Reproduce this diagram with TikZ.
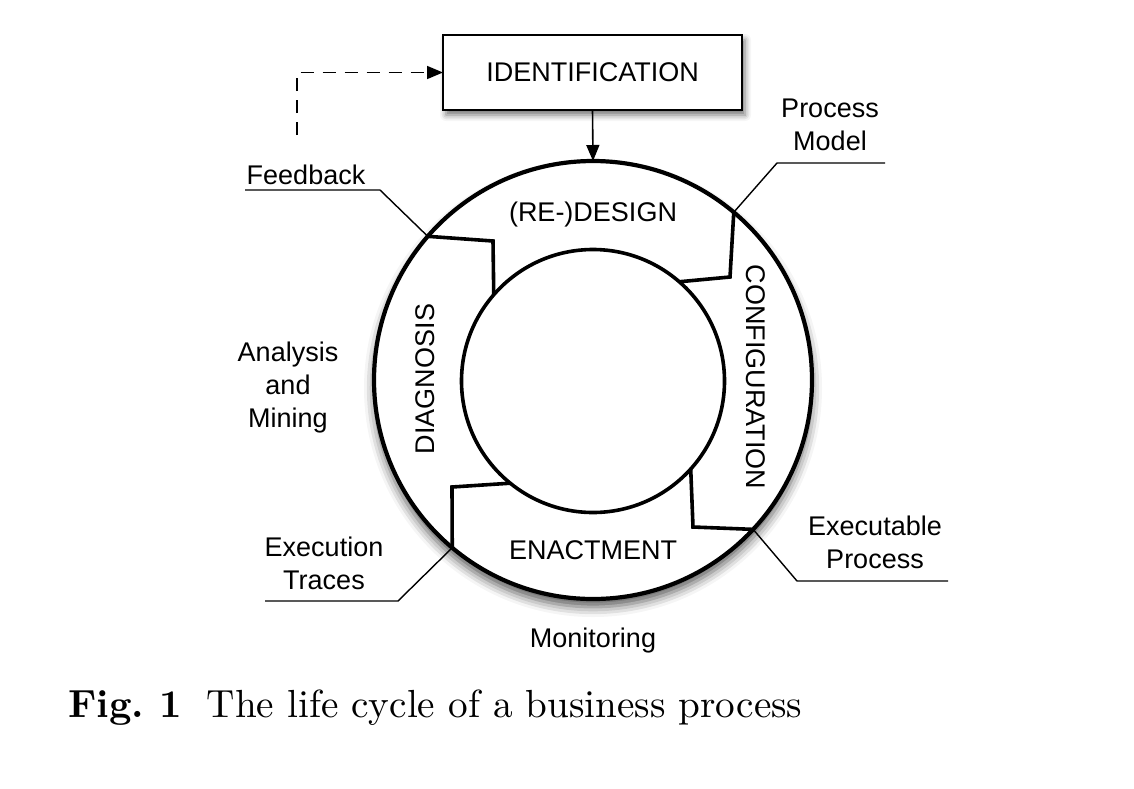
\documentclass[tikz,border=0pt]{standalone}
\usepackage{fontspec}
\newfontfamily\lab{Liberation Sans}
\usetikzlibrary{shadows.blur,arrows.meta}
\tikzset{
  lbl/.style={font=\lab\fontsize{27}{33}\selectfont, align=center, inner sep=0pt},
  ring/.style={circle, draw, line width=4.2pt, fill=white, outer sep=0pt, inner sep=0pt},
  divider/.style={line width=3.6pt, line join=miter},
  leader/.style={line width=1.4pt},
  idbox/.style={draw, line width=2pt, fill=white, minimum width=299, minimum height=75,
    inner sep=0pt, outer sep=0pt, font=\lab\fontsize{27}{31}\selectfont,
    blur shadow={shadow xshift=3pt, shadow yshift=-5pt, shadow blur radius=6pt, shadow opacity=55}},
  flowarrow/.style={line width=1.6pt, -{Triangle[length=16pt, width=13pt]}},
  fbarrow/.style={line width=1.6pt, dash pattern=on 13pt off 9pt, -{Triangle[length=16pt, width=13pt]}}
}
\begin{document}
\begin{tikzpicture}[x=1pt,y=-1pt]
\useasboundingbox (0,0) rectangle (1134,788);
% rings
\node[ring, minimum size=438, blur shadow={shadow xshift=0pt, shadow yshift=-8pt, shadow blur radius=10pt, shadow opacity=65}] (outer) at (593,380) {};
\node[ring, minimum size=263, line width=3.6pt] (inner) at (593,381) {};
% identification
\node[idbox] (ident) at (592.5,72.5) {IDENTIFICATION};
\draw[flowarrow] (ident.south) -- (outer.north);
\coordinate (fbstart) at (297,135);
\draw[fbarrow] (fbstart) |- (ident.west);
% dividers
\coordinate (c1) at (493,241);
\coordinate (c2) at (730,277);
\coordinate (c3) at (693,527);
\coordinate (c4) at (452,487);
\draw[divider] (outer.139) -- (c1) -- (inner.139.8);
\draw[divider] (outer.50.2) -- (c2) -- (inner.49.8);
\draw[divider] (outer.-43) -- (c3) -- (inner.-42.2);
\draw[divider] (outer.230) -- (c4) -- (inner.231.1);
% leaders
\coordinate (k1) at (380,190); \coordinate (e1) at (245,190);
\coordinate (k2) at (777,163); \coordinate (e2) at (885,163);
\coordinate (k3) at (797,581); \coordinate (e3) at (948,581);
\coordinate (k4) at (398,601); \coordinate (e4) at (265,601);
\draw[leader] (outer.139) -- (k1) -- (e1);
\draw[leader] (outer.50.2) -- (k2) -- (e2);
\draw[leader] (outer.-43) -- (k3) -- (e3);
\draw[leader] (outer.230) -- (k4) -- (e4);
% phase labels
\node[lbl] (design) at (593,215) {(RE-)DESIGN};
\node[lbl] (enact) at (593,550) {ENACTMENT};
\node[lbl, rotate=90] (diag) at (425,379) {DIAGNOSIS};
\node[lbl, rotate=-90] (config) at (756,377) {CONFIGURATION};
% artefact labels
\node[lbl] (feedback) at (306,175) {Feedback};
\node[lbl] (pmodel) at (830,125) {Process\\Model};
\node[lbl] (exproc) at (875,542) {Executable\\Process};
\node[lbl] (extraces) at (324,563) {Execution\\Traces};
\node[lbl] (mining) at (288,388) {Analysis\\and\\Mining};
\node[lbl] (monitor) at (593,641) {Monitoring};
% caption
\node[anchor=base west, inner sep=0pt] (caption) at (68,717) {\scalebox{3.92}{\fontsize{10}{12}\selectfont\textbf{Fig.\ 1}\hspace{6.4pt}The life cycle of a business process}};
\end{tikzpicture}
\end{document}
